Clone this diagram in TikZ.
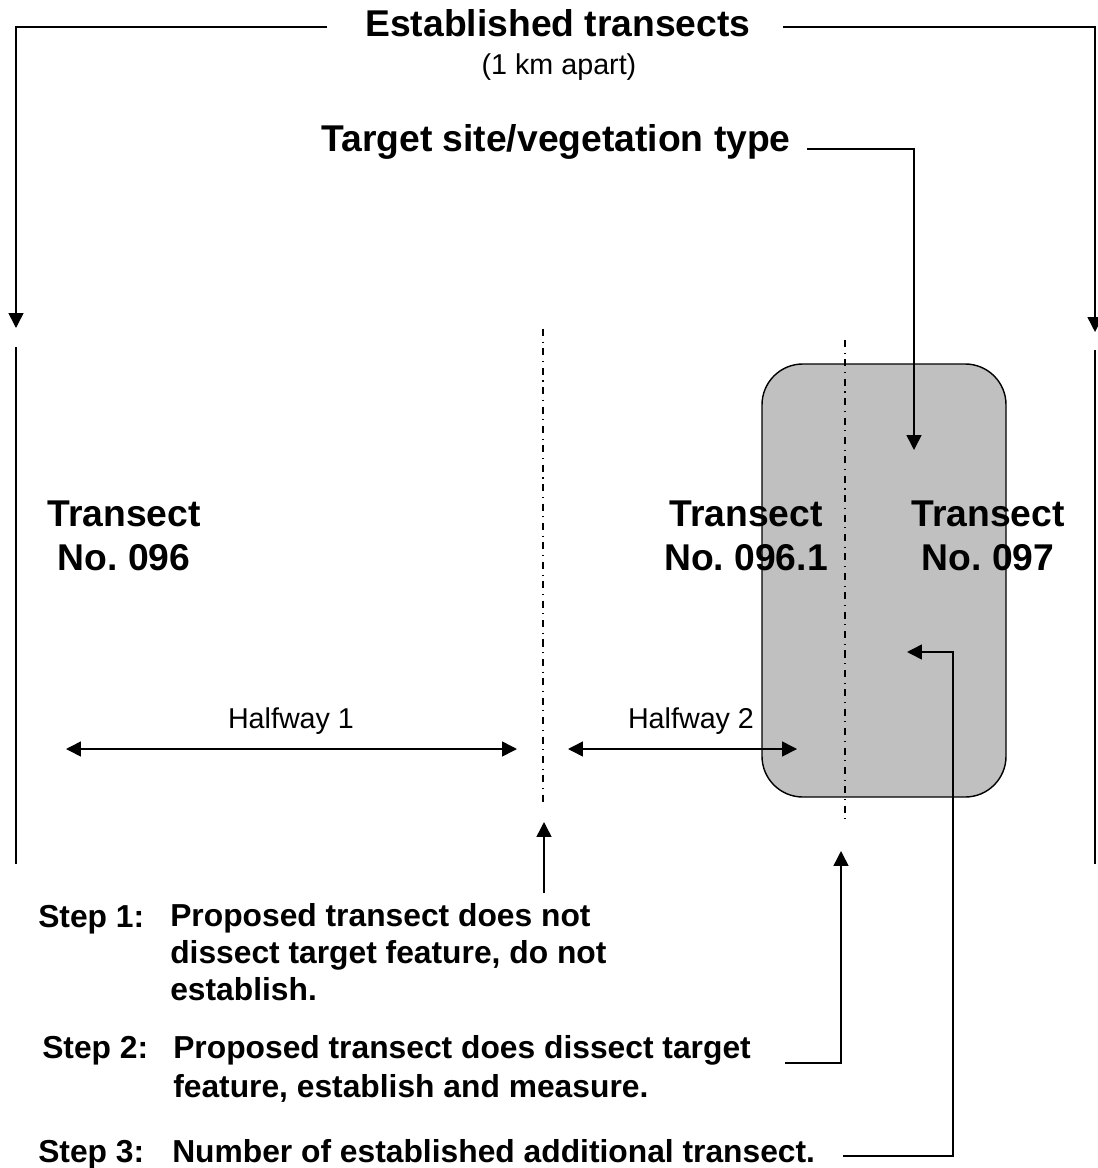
\documentclass[tikz,border=0pt]{standalone}
\usepackage{fontspec}
\setmainfont{Liberation Sans}
\usepackage{tikz}
\usetikzlibrary{arrows.meta}
\definecolor{siteGray}{HTML}{C0C0C0}
\frenchspacing

\begin{document}
\begin{tikzpicture}[x=0.025cm, y=-0.025cm,
  big/.style={font=\fontsize{26.5}{30.6}\selectfont\bfseries, inner sep=0pt},
  stepfont/.style={font=\fontsize{22.6}{#1}\selectfont\bfseries, inner sep=0pt, anchor=base west, align=left},
  stepfont/.default=26pt,
  plain/.style={font=\fontsize{20.4}{24}\selectfont, inner sep=0pt},
  arr/.style={-{Triangle[length=10.5pt,width=10.5pt]}, line width=1.1pt},
  twoarr/.style={{Triangle[length=10.5pt,width=10.5pt]}-{Triangle[length=10.5pt,width=10.5pt]}, line width=1.1pt},
  tline/.style={line width=1.2pt},
  halfline/.style={line width=1pt, dash pattern=on 5pt off 4pt on 0.8pt off 4pt}]
\useasboundingbox (0,0) rectangle (1097,1168);

\node[big, anchor=base] (estab) at (558,37) {Established transects};
\node[plain, anchor=base] (apart) at (559,75) {(1 km apart)};
\node[big, anchor=base west] (target) at (321,152) {Target site/vegetation type};

\draw[line width=1pt, fill=siteGray, rounded corners=29pt] (762,364) rectangle (1006,797);

\draw[tline] (16,347) -- (16,864);
\draw[tline] (1095,350) -- (1095,864);
\draw[halfline] (543,329) -- (543,806);
\draw[halfline] (845,340) -- (845,819);

\foreach \x/\n/\id in {124/096/a, 746/096.1/b, 988/097/c}
  \node[big, align=center, anchor=base] (tr\id) at (\x,570) {Transect\\No. \n};

\coordinate (tip96) at (16,328);
\coordinate (tip97) at (1095,332);
\coordinate (tgttip) at (914,450);
\draw[arr] ([shift={(-38,-10)}]estab.base west) -| (tip96);
\draw[arr] ([shift={(32,-10)}]estab.base east) -| (tip97);
\draw[arr] ([shift={(16,-3)}]target.base east) -| (tgttip);

\coordinate (h1l) at (66,749);  \coordinate (h1r) at (517,749);
\coordinate (h2l) at (568,749); \coordinate (h2r) at (797,749);
\draw[twoarr] (h1l) -- (h1r);
\draw[twoarr] (h2l) -- (h2r);
\node[plain, anchor=base] (half1) at (291,728) {Halfway 1};
\node[plain, anchor=base] (half2) at (691,728) {Halfway 2};

\node[stepfont] (s1) at (38,927) {Step 1:};
\node[stepfont] (s1t) at (170,1000) {Proposed transect does not\\dissect target feature, do not\\establish.};
\node[stepfont] (s2) at (42,1058) {Step 2:};
\node[stepfont=27.7pt] (s2t) at (173,1097) {Proposed transect does dissect target\\feature, establish and measure.};
\node[stepfont] (s3) at (38,1162) {Step 3:};
\node[stepfont] (s3t) at (172,1162) {Number of established additional transect.};

\coordinate (s1foot) at (544,893);
\coordinate (s1tip) at (544,822);
\coordinate (s2tip) at (841,851);
\coordinate (s3bend) at (953,652);
\coordinate (s3tip) at (907,652);
\draw[arr] (s1foot) -- (s1tip);
\draw[arr] ([shift={(34,-34)}]s2t.base east) -| (s2tip);
\draw[arr] ([shift={(28,-6)}]s3t.base east) -| (s3bend) -- (s3tip);
\end{tikzpicture}
\end{document}
